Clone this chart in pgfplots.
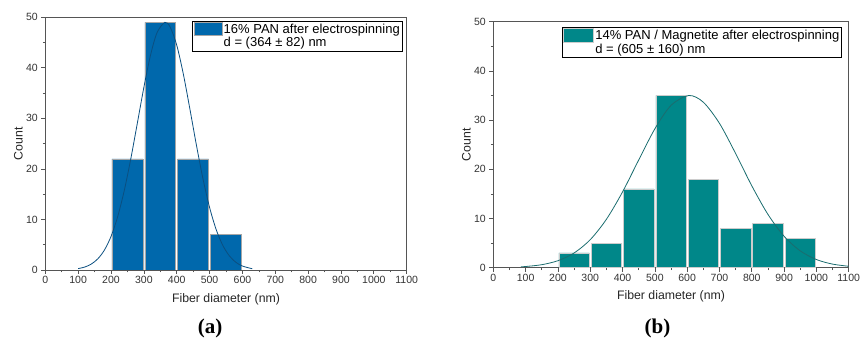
\documentclass[border=0pt]{standalone}
\usepackage{pgfplots}
\pgfplotsset{compat=1.18}
\usepackage{fontspec}
\setmainfont{Liberation Sans}
\newfontfamily\serifb{Liberation Serif}
\definecolor{barA}{HTML}{0068AC}
\definecolor{curveA}{HTML}{0B4F80}
\definecolor{barB}{HTML}{008789}
\definecolor{curveB}{HTML}{1B6D6F}
\definecolor{axgray}{HTML}{555555}
\pgfplotsset{
  histo/.style={
    scale only axis,
    xmin=0, xmax=1100, ymin=0, ymax=50,
    xtick={0,100,...,1100}, ytick={0,10,...,50},
    minor x tick num=1, minor y tick num=1,
    tick align=outside, tick pos=left,
    major tick length=4pt, minor tick length=2.5pt,
    axis line style={axgray, line width=0.9pt},
    every tick/.style={axgray, line width=0.7pt},
    every minor tick/.style={axgray, line width=0.6pt},
    tick label style={font=\fontsize{10.5}{10.5}\selectfont, text=black!80},
    xticklabel style={yshift=1pt},
    /pgf/number format/assume math mode=true,
    /pgf/number format/1000 sep={},
    xlabel={Fiber diameter (nm)}, ylabel={Count},
    every axis x label/.style={at={(rel axis cs:0.5,0)}, anchor=center, yshift=-29pt,
       font=\fontsize{12.3}{12.3}\selectfont, text=black!85},
    every axis y label/.style={at={(rel axis cs:0,0.5)}, anchor=center, rotate=90, yshift=27pt,
       font=\fontsize{12.3}{12.3}\selectfont, text=black!85},
    legend cell align=left,
  }
}
\begin{document}
\begin{tikzpicture}[x=1pt,y=1pt]
\useasboundingbox (0,0) rectangle (860,342);
% ---------- (a) ----------
\begin{axis}[histo,
  at={(45.3pt,72pt)}, anchor=south west,
  width=361.4pt, height=252.7pt,
  legend style={at={(rel axis cs:0.989,0.9866)}, anchor=north east,
    draw=black, line width=0.9pt, inner sep=1pt, row sep=0pt,
    font=\fontsize{13}{13.5}\selectfont,
    nodes={inner sep=1.5pt}},
]
\addplot[ybar, bar width=94, bar shift=0pt, fill=barA, draw=gray!70, line width=0.5pt,
  legend image code/.code={\draw[fill=barA, draw=gray!70, line width=0.4pt] (-1pt,-6.5pt) rectangle (27pt,6.5pt);}]
  coordinates {(250,22) (350,49) (450,22) (550,7)};
\addlegendentry{16\% PAN after electrospinning}
\addplot[smooth, no markers, curveA, line width=0.8pt, forget plot] coordinates {
 (100,0.275) (120,0.586) (140,1.175) (160,2.219) (180,3.951) (200,6.63)
 (220,10.49) (240,15.62) (260,21.92) (280,29.0) (300,36.13) (320,42.43)
 (340,46.95) (364,49) (380,48.07) (400,44.50) (420,38.81) (440,31.89)
 (460,24.69) (480,18.02) (500,12.38) (520,8.02) (540,4.90) (560,2.82)
 (580,1.53) (600,0.78) (630,0.25)};
\addlegendimage{empty legend}
\addlegendentry{d = (364 ± 82) nm}
\end{axis}
% ---------- (b) ----------
\begin{axis}[histo,
  at={(493.3pt,74.3pt)}, anchor=south west,
  width=355.4pt, height=246pt,
  legend style={at={(rel axis cs:0.982,0.9797)}, anchor=north east,
    draw=black, line width=0.9pt, inner sep=1pt, row sep=0pt,
    font=\fontsize{13}{13.5}\selectfont,
    nodes={inner sep=1.5pt}},
]
\addplot[ybar, bar width=94, bar shift=0pt, fill=barB, draw=gray!40, line width=0.5pt,
  legend image code/.code={\draw[fill=barB, draw=gray!40, line width=0.4pt] (-1pt,-7pt) rectangle (29pt,7pt);}]
  coordinates {(250,3) (350,5) (450,16) (550,35) (650,18) (750,8) (850,9) (950,6)};
\addlegendentry{14\% PAN / Magnetite after electrospinning}
\addplot[smooth, no markers, curveB, line width=0.8pt, forget plot] coordinates {
 (85,0.18) (100,0.24) (150,0.61) (200,1.42) (250,2.99) (300,5.69) (350,9.83)
 (400,15.40) (450,21.89) (500,28.22) (550,32.99) (605,35) (650,33.64)
 (700,29.34) (750,23.21) (800,16.65) (850,10.84) (900,6.39) (950,3.42)
 (1000,1.66) (1050,0.73) (1100,0.29)};
\addlegendimage{empty legend}
\addlegendentry{d = (605 ± 160) nm}
\end{axis}
\node[font=\serifb\fontsize{21}{21}\selectfont\bfseries] at (210,14) {(a)};
\node[font=\serifb\fontsize{21}{21}\selectfont\bfseries] at (657.5,14) {(b)};
\end{tikzpicture}
\end{document}
